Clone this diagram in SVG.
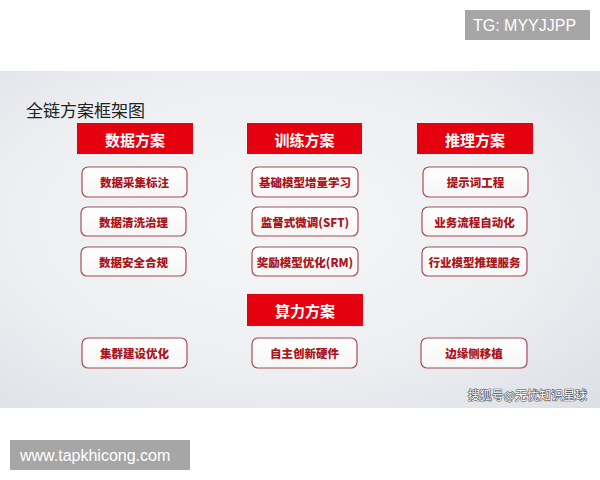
<svg xmlns="http://www.w3.org/2000/svg" width="600" height="480" viewBox="0 0 600 480">
  <defs>
    <radialGradient id="bg" cx="0.45" cy="0.45" r="0.75">
      <stop offset="0" stop-color="#f5f6f8"/>
      <stop offset="0.6" stop-color="#eceef1"/>
      <stop offset="1" stop-color="#dde0e6"/>
    </radialGradient>
    <linearGradient id="boxfill" x1="0" y1="0" x2="0" y2="1">
      <stop offset="0" stop-color="#ffffff"/>
      <stop offset="1" stop-color="#f6f6f7"/>
    </linearGradient>
    <style>
      .hdr { fill: #e50010; }
      .hdrt { fill: #ffffff; font-family: "Noto Sans CJK SC", "Noto Sans", sans-serif; font-weight: bold; font-size: 15px; text-anchor: middle; dominant-baseline: central; }
      .box { fill: url(#boxfill); stroke: #a84d56; stroke-width: 1.2; }
      .boxt { fill: #aa1620; font-family: "Noto Sans CJK SC", "Noto Sans", sans-serif; font-weight: 900; font-size: 11.5px; text-anchor: middle; dominant-baseline: central; }
      .tag { fill: #a6a6a6; }
      .tagt { fill: #ffffff; font-family: "Liberation Sans", Arial, sans-serif; font-size: 16px; }
    </style>
  </defs>

  <rect x="0" y="0" width="600" height="480" fill="#ffffff"/>
  <rect x="0" y="71" width="600" height="337" fill="url(#bg)"/>

  <g id="tg-tag">
    <rect class="tag" x="465" y="10" width="125" height="30"/>
    <text class="tagt" x="473" y="31">TG: MYYJJPP</text>
  </g>

  <text id="title" x="26" y="117" font-family="Noto Sans CJK SC, Noto Sans, sans-serif" font-size="17" fill="#222222">全链方案框架图</text>

  <g id="h-data">
    <rect class="hdr" x="77" y="123" width="116" height="31"/>
    <text class="hdrt" x="135" y="139">数据方案</text>
  </g>
  <g id="h-train">
    <rect class="hdr" x="247" y="123" width="115" height="31"/>
    <text class="hdrt" x="304.5" y="139">训练方案</text>
  </g>
  <g id="h-infer">
    <rect class="hdr" x="417" y="123" width="116" height="31"/>
    <text class="hdrt" x="475" y="139">推理方案</text>
  </g>
  <g id="h-compute">
    <rect class="hdr" x="247" y="294" width="116" height="32"/>
    <text class="hdrt" x="305" y="310">算力方案</text>
  </g>

  <g id="n-data1">
    <rect class="box" x="82" y="167" width="105" height="30" rx="6"/>
    <text class="boxt" x="134.5" y="182">数据采集标注</text>
  </g>
  <g id="n-data2">
    <rect class="box" x="81" y="207" width="105" height="29" rx="6"/>
    <text class="boxt" x="133.5" y="221.5">数据清洗治理</text>
  </g>
  <g id="n-data3">
    <rect class="box" x="81" y="247" width="105" height="29" rx="6"/>
    <text class="boxt" x="133.5" y="261.5">数据安全合规</text>
  </g>

  <g id="n-train1">
    <rect class="box" x="252" y="167" width="106" height="30" rx="6"/>
    <text class="boxt" x="305" y="182">基础模型增量学习</text>
  </g>
  <g id="n-train2">
    <rect class="box" x="252" y="207" width="106" height="29" rx="6"/>
    <text class="boxt" x="305" y="221.5">监督式微调(SFT)</text>
  </g>
  <g id="n-train3">
    <rect class="box" x="252" y="247" width="106" height="29" rx="6"/>
    <text class="boxt" x="305" y="261.5">奖励模型优化(RM)</text>
  </g>

  <g id="n-infer1">
    <rect class="box" x="423" y="167" width="105" height="30" rx="6"/>
    <text class="boxt" x="475.5" y="182">提示词工程</text>
  </g>
  <g id="n-infer2">
    <rect class="box" x="422" y="207" width="105" height="29" rx="6"/>
    <text class="boxt" x="474.5" y="221.5">业务流程自动化</text>
  </g>
  <g id="n-infer3">
    <rect class="box" x="422" y="247" width="105" height="29" rx="6"/>
    <text class="boxt" x="474.5" y="261.5">行业模型推理服务</text>
  </g>

  <g id="n-comp1">
    <rect class="box" x="82" y="338" width="105" height="30" rx="6"/>
    <text class="boxt" x="134.5" y="353">集群建设优化</text>
  </g>
  <g id="n-comp2">
    <rect class="box" x="252" y="338" width="105" height="30" rx="6"/>
    <text class="boxt" x="304.5" y="353">自主创新硬件</text>
  </g>
  <g id="n-comp3">
    <rect class="box" x="421" y="338" width="106" height="30" rx="6"/>
    <text class="boxt" x="474" y="353">边缘侧移植</text>
  </g>

  <g id="connectors"></g>

  <text id="watermark" x="587" y="400" text-anchor="end" font-family="Noto Sans CJK SC, Noto Sans, sans-serif" font-size="12" fill="#ffffff" stroke="#4a4a4a" stroke-width="1.1" paint-order="stroke" stroke-linejoin="round">搜狐号@无忧知识星球</text>

  <g id="www-tag">
    <rect class="tag" x="10" y="440" width="180" height="30"/>
    <text class="tagt" x="20" y="461">www.tapkhicong.com</text>
  </g>
</svg>
